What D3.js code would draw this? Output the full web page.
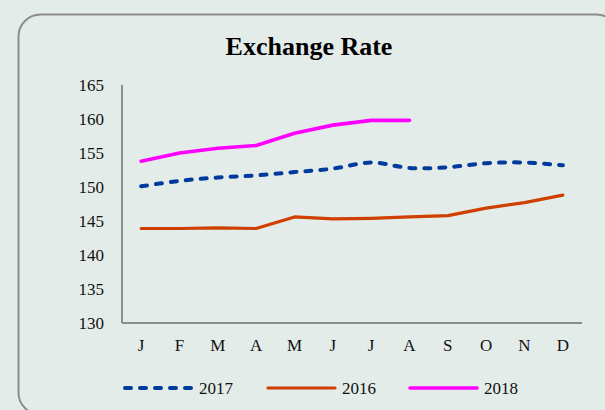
<!DOCTYPE html>
<html>
<head>
<meta charset="utf-8">
<script src="https://cdn.jsdelivr.net/npm/d3@7"></script>
<style>
  html, body { margin: 0; padding: 0; background: #e4ecea; }
  svg { display: block; font-family: "Liberation Serif", "DejaVu Serif", serif; }
</style>
</head>
<body>
<div class="chart"></div>
<script>
'use strict'

let width = 605;
let height = 410;

const months = ['J', 'F', 'M', 'A', 'M', 'J', 'J', 'A', 'S', 'O', 'N', 'D'];
const yTicks = [130, 135, 140, 145, 150, 155, 160, 165];

/* values */
const rate2017 = [150.1, 150.9, 151.4, 151.7, 152.2, 152.7, 153.6, 152.8, 152.9, 153.5, 153.6, 153.2];
const rate2016 = [143.9, 143.9, 144.0, 143.9, 145.6, 145.3, 145.4, 145.6, 145.8, 146.9, 147.7, 148.8];
const rate2018 = [153.8, 155.0, 155.7, 156.1, 157.9, 159.1, 159.8, 159.8];

const seriesNames = ['2017', '2016', '2018'];

const svg = d3.select('.chart')
              .append('svg')
              .attr('width', width)
              .attr('height', height);

/* card */
svg.append('rect')
   .attr('x', 18.5).attr('y', 14.5)
   .attr('width', 600).attr('height', 400)
   .attr('rx', 22)
   .attr('fill', 'none')
   .attr('stroke', '#8c8c8c')
   .attr('stroke-width', 2);

svg.append('text')
   .attr('x', 309).attr('y', 55)
   .attr('text-anchor', 'middle')
   .attr('font-family', '"Liberation Serif", serif')
   .style('font-size', '26px')
   .style('font-weight', 'bold')
   .text('Exchange Rate');

/* scales */
const xScale = d3.scaleBand()
                 .domain(d3.range(12))
                 .range([122, 582]);
const yScale = d3.scaleLinear()
                 .domain([130, 165])
                 .range([323, 85]);

const xAxis = d3.axisBottom(xScale).tickSize(0).tickPadding(16)
                .tickFormat(i => months[i]);
const yAxis = d3.axisLeft(yScale).tickValues(yTicks).tickSize(0).tickPadding(18)
                .tickFormat(d3.format('d'));

const gx = svg.append('g')
   .attr('transform', 'translate(0,323)')
   .call(xAxis);
const gy = svg.append('g')
   .attr('transform', 'translate(122,0)')
   .call(yAxis);

[gx, gy].forEach(g => {
    g.attr('font-family', '"Liberation Serif", serif').attr('font-size', 17);
    g.select('.domain').attr('stroke', '#8c8c8c').attr('stroke-width', 2);
    g.selectAll('text').attr('fill', '#111');
});
gx.select('.domain').attr('d', 'M122,0H582');
gy.select('.domain').attr('d', 'M0,85V323');

const cx = i => xScale(i) + xScale.bandwidth() / 2;

const styles = {
    '2017': { color: '#003a9c', width: 4, dash: '6,9', curve: d3.curveCatmullRom.alpha(0.5) },
    '2016': { color: '#cf3f00', width: 3.2, dash: null, curve: d3.curveLinear },
    '2018': { color: '#ff00ff', width: 3.6, dash: null, curve: d3.curveLinear }
};
const values = { '2017': rate2017, '2016': rate2016, '2018': rate2018 };

seriesNames.forEach(name => {
    const st = styles[name];
    const line = d3.line()
                   .x((d, i) => cx(i))
                   .y(d => yScale(d))
                   .curve(st.curve);
    svg.append('path')
       .datum(values[name])
       .attr('d', line)
       .attr('fill', 'none')
       .attr('stroke', st.color)
       .attr('stroke-width', st.width)
       .attr('stroke-linecap', 'round')
       .attr('stroke-linejoin', 'round')
       .attr('stroke-dasharray', st.dash);
});

/* legend */
const legendX = [125, 268, 410];
const legend = svg.append('g').attr('transform', 'translate(0,388)');
seriesNames.forEach((name, k) => {
    const st = styles[name];
    legend.append('line')
          .attr('x1', legendX[k]).attr('x2', legendX[k] + 67)
          .attr('y1', 0).attr('y2', 0)
          .attr('stroke', st.color)
          .attr('stroke-width', st.width)
          .attr('stroke-linecap', 'round')
          .attr('stroke-dasharray', st.dash);
    legend.append('text')
          .attr('x', legendX[k] + 74).attr('y', 6)
          .attr('font-family', '"Liberation Serif", serif')
          .style('font-size', '17px')
          .attr('fill', '#111')
          .text(name);
});
</script>
</body>
</html>
